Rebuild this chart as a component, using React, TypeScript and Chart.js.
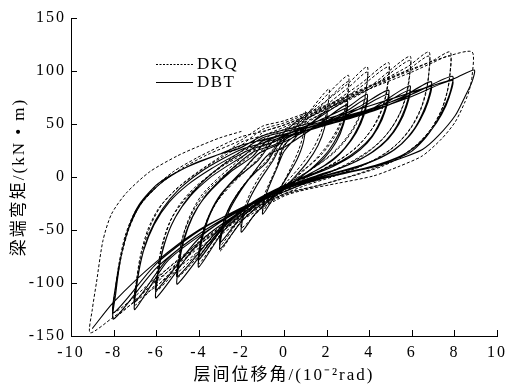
import React, { useEffect, useRef } from "react";
import { Chart, registerables } from "chart.js";

Chart.register(...registerables);

// Tick values
const xTicks = [-10, -8, -6, -4, -2, 0, 2, 4, 6, 8, 10];
const yTicks = [-150, -100, -50, 0, 50, 100, 150];

// DBT (solid) hysteresis cycles, in loading order: [drift (10^-2 rad), moment (kN·m)]
const dbt1 = [[-0.3,10],[0,24],[0.5,36],[1,48],[0.9,32],[0.6,16],[0.2,2],[-0.1,-8],[-0.5,-20],[-1,-35],[-0.9,-20],[-0.6,-4],[-0.3,10]];
const dbt2 = [[0,30],[1,46],[2,62],[1.9,46],[1.6,30],[1.1,14],[0.5,0],[0,-10],[-0.8,-24],[-1.4,-36],[-2,-52],[-1.9,-36],[-1.6,-20],[-1.1,-2],[-0.5,16]];
const dbt3 = [[0,34],[1.2,50],[2.95,72],[2.85,56],[2.55,40],[2.1,25],[1.5,12],[0.8,0],[0,-12],[-1.2,-28],[-2,-42],[-3,-68],[-2.9,-52],[-2.6,-33],[-2.1,-15],[-1.5,2],[-0.8,20]];
const dbt3b = [[0,28],[1.5,48],[2.95,68],[2.8,50],[2.45,33],[1.9,18],[1.2,6],[0.4,-5],[0,-10],[-1.2,-25],[-2.1,-40],[-3,-62],[-2.88,-45],[-2.5,-26],[-1.9,-8],[-1.3,5],[-0.8,14]];
const dbt4 = [[0,38],[1.5,52],[3,66],[3.9,78],[3.8,64],[3.5,48],[3.1,34],[2.6,22],[1.9,11],[1.1,2],[0.3,-6],[-0.3,-12],[-1.5,-28],[-2.8,-50],[-4,-85],[-3.95,-70],[-3.7,-48],[-3.3,-28],[-2.7,-10],[-2,5],[-1.2,22]];
const dbt4b = [[0,33],[1.5,48],[3,63],[3.9,74],[3.75,58],[3.4,42],[2.9,28],[2.3,16],[1.5,6],[0.6,-3],[0,-9],[-1.5,-25],[-2.8,-46],[-4,-78],[-3.9,-60],[-3.6,-40],[-3.1,-20],[-2.4,-4],[-1.2,16]];
const dbt5 = [[-0.5,34],[0.5,43],[2,52],[3.5,66],[4.9,82],[4.8,68],[4.5,52],[4.1,38],[3.5,26],[2.7,15],[1.7,6],[0.7,-2],[0,-9],[-1.5,-26],[-3,-50],[-5,-101],[-4.95,-85],[-4.7,-60],[-4.3,-38],[-3.7,-18],[-3,-3],[-2.2,12],[-1.4,24]];
const dbt5b = [[-0.5,30],[0.5,40],[2,50],[3.5,64],[4.9,78],[4.75,62],[4.4,46],[3.9,32],[3.2,20],[2.3,10],[1.2,1],[0,-8],[-1.5,-24],[-3,-48],[-5,-94],[-4.9,-75],[-4.6,-52],[-4.1,-30],[-3.4,-12],[-2.5,5],[-1.5,19]];
const dbt6 = [[-0.8,34],[0.5,43],[2,51],[4,63],[5.9,86],[5.8,72],[5.5,56],[5.1,42],[4.5,29],[3.7,18],[2.7,9],[1.5,1],[0,-10],[-2,-32],[-4,-62],[-6,-114],[-5.95,-98],[-5.7,-70],[-5.3,-46],[-4.7,-25],[-3.9,-6],[-2.9,11],[-1.8,24]];
const dbt6b = [[-0.8,31],[0.5,40],[2,49],[4,61],[5.9,82],[5.75,66],[5.4,50],[4.9,36],[4.2,24],[3.3,14],[2.2,5],[1,-3],[0,-9],[-2,-30],[-4,-58],[-6,-107],[-5.9,-88],[-5.6,-62],[-5.1,-38],[-4.4,-18],[-3.5,-1],[-2.7,10],[-1.9,20]];
const dbt7 = [[-1,34],[0.5,43],[2,52],[4,63],[5.5,75],[6.9,90],[6.8,76],[6.5,60],[6.1,45],[5.5,31],[4.7,20],[3.6,11],[2.2,3],[1,-4],[0,-11],[-2,-31],[-4,-56],[-5.5,-80],[-7,-125],[-6.95,-108],[-6.7,-78],[-6.3,-52],[-5.7,-30],[-4.9,-11],[-3.9,5],[-2.9,17],[-2,26]];
const dbt7b = [[-1,32],[0.5,41],[2,50],[4,61],[5.5,73],[6.9,86],[6.75,70],[6.4,54],[5.9,39],[5.2,26],[4.3,16],[3.1,7],[1.7,0],[0,-10],[-2,-30],[-4,-54],[-5.5,-78],[-7,-118],[-6.9,-98],[-6.6,-70],[-6.1,-45],[-5.4,-24],[-4.5,-7],[-3.4,8],[-2.1,23]];
const dbt8 = [[-1,37],[0.5,45],[2,53],[4,64],[6,78],[7.9,95],[7.8,80],[7.5,65],[7.1,50],[6.6,36],[5.9,23],[4.8,14],[3.3,6],[1.5,-2],[0,-12],[-2,-31],[-4,-54],[-6,-86],[-8,-134],[-7.9,-110],[-7.65,-75],[-7.3,-48],[-6.8,-26],[-5.9,-6],[-4.6,9],[-3.1,21],[-2,30]];
const dbt8b = [[-1,35],[0.5,43],[2,51],[4,62],[6,76],[7.9,91],[7.75,75],[7.4,59],[6.9,44],[6.3,31],[5.5,20],[4.3,11],[2.8,3],[1.2,-4],[0,-11],[-2,-29],[-4,-51],[-6,-82],[-8,-128],[-7.9,-102],[-7.6,-70],[-7.2,-44],[-6.6,-22],[-5.6,-3],[-4.3,12],[-3.1,21],[-2.1,27]];
const dbt9 = [[-1,39],[0.5,47],[2,55],[4,67],[6,80],[8,93],[8.93,101],[8.83,90],[8.5,76],[8.04,58],[7.25,39],[6.5,26],[5.4,17],[4.3,10],[2.5,2],[1,-6],[0,-14],[-2,-30],[-4,-50],[-6,-80],[-8,-118],[-9,-143]];

// DKQ (dashed) hysteresis cycles, in loading order
const dkq1 = [[-0.3,12],[0,28],[0.5,45],[1,62],[0.95,44],[0.7,26],[0.35,10],[0,-4],[-0.5,-18],[-1,-32],[-0.9,-16],[-0.6,-2],[-0.3,12]];
const dkq2 = [[0,36],[1,57],[2.1,83],[2.05,66],[1.8,46],[1.4,28],[0.8,11],[0.2,-3],[-0.2,-12],[-1,-28],[-2,-48],[-1.9,-32],[-1.6,-16],[-1.1,2],[-0.5,18]];
const dkq3 = [[0,42],[1.4,65],[3,96],[3,80],[2.85,63],[2.5,45],[2,29],[1.4,15],[0.7,3],[0,-10],[-1.2,-27],[-2.1,-44],[-3,-70],[-2.95,-54],[-2.7,-35],[-2.2,-16],[-1.6,0],[-0.8,20]];
const dkq3b = [[0,36],[1.5,62],[3,90],[2.95,72],[2.75,54],[2.35,37],[1.8,22],[1.1,9],[0.4,-3],[0,-9],[-1.2,-25],[-2.1,-41],[-3,-65],[-2.9,-48],[-2.6,-30],[-2,-11],[-1.4,4],[-0.8,16]];
const dkq4 = [[0,42],[1.6,66],[3,88],[3.9,104],[3.9,88],[3.8,74],[3.55,58],[3.15,43],[2.6,29],[1.9,16],[1.1,5],[0.3,-5],[-0.3,-12],[-1.5,-30],[-2.8,-50],[-4,-82],[-3.95,-66],[-3.7,-46],[-3.3,-28],[-2.7,-11],[-2,4],[-1.1,24]];
const dkq4b = [[0,39],[1.6,62],[3,84],[3.9,99],[3.85,82],[3.7,66],[3.4,50],[2.95,36],[2.3,22],[1.5,10],[0.6,-1],[0,-8],[-1.5,-28],[-2.8,-47],[-4,-77],[-3.9,-60],[-3.6,-40],[-3.1,-22],[-2.4,-6],[-1.1,20]];
const dkq5 = [[-0.6,36],[0.5,48],[2,66],[3.6,88],[4.9,108],[4.9,92],[4.8,78],[4.55,62],[4.15,46],[3.6,32],[2.9,20],[2.1,10],[1.2,1],[0,-12],[-1.5,-28],[-3,-52],[-5,-95],[-4.95,-78],[-4.75,-56],[-4.4,-36],[-3.9,-18],[-3.2,-3],[-2.4,11],[-1.6,24]];
const dkq5b = [[-0.6,32],[0.5,44],[2,63],[3.6,85],[4.9,104],[4.85,86],[4.7,70],[4.4,54],[3.9,39],[3.3,26],[2.5,15],[1.6,5],[0.5,-5],[0,-10],[-1.5,-26],[-3,-49],[-5,-90],[-4.9,-71],[-4.65,-50],[-4.2,-30],[-3.6,-13],[-2.8,2],[-1.6,20]];
const dkq6 = [[-1,35],[0,45],[2,64],[4,85],[5.9,114],[5.9,96],[5.8,82],[5.55,65],[5.1,48],[4.5,33],[3.7,20],[2.8,10],[1.7,1],[0.5,-8],[0,-14],[-2,-35],[-4,-64],[-6,-108],[-5.95,-90],[-5.75,-66],[-5.4,-44],[-4.9,-26],[-4.2,-10],[-3.3,5],[-2.6,16],[-2,24]];
const dkq6b = [[-1,32],[0,42],[2,62],[4,83],[5.9,110],[5.85,90],[5.7,75],[5.4,58],[4.9,42],[4.2,28],[3.3,16],[2.3,6],[1.1,-3],[0,-12],[-2,-33],[-4,-61],[-6,-103],[-5.9,-84],[-5.65,-60],[-5.25,-38],[-4.6,-20],[-3.8,-4],[-2.9,10],[-2,21]];
const dkq7 = [[-1,42],[0,49],[2,66],[4,85],[5.8,104],[6.8,118],[6.8,98],[6.7,84],[6.45,66],[6,48],[5.4,33],[4.6,20],[3.6,10],[2.4,1],[1,-8],[0,-16],[-2,-36],[-4,-64],[-5.5,-90],[-7,-121],[-6.95,-102],[-6.75,-75],[-6.4,-50],[-5.9,-30],[-5.1,-12],[-4.1,4],[-3,19],[-2,33]];
const dkq7b = [[-1,39],[0,47],[2,64],[4,83],[5.8,101],[6.8,114],[6.78,94],[6.65,78],[6.35,60],[5.85,43],[5.2,29],[4.3,17],[3.2,7],[1.9,-1],[0.6,-9],[0,-14],[-2,-34],[-4,-62],[-5.5,-87],[-7,-116],[-6.9,-96],[-6.65,-70],[-6.25,-45],[-5.7,-25],[-4.8,-7],[-3.7,9],[-2.8,20],[-2,30]];
const dkq8 = [[-1,45],[0,51],[2,67],[4,85],[6,101],[7,110],[7.8,118],[7.8,99],[7.7,84],[7.45,66],[7,48],[6.4,33],[5.6,20],[4.6,10],[3.4,2],[2,-6],[0,-17],[-2,-39],[-4,-67],[-6,-98],[-8,-133],[-7.95,-112],[-7.75,-82],[-7.45,-55],[-7,-33],[-6.2,-12],[-5.2,5],[-4.1,18],[-3,29],[-2,38]];
const dkq8b = [[-1,43],[0,49],[2,65],[4,83],[6,99],[7,108],[7.8,114],[7.78,95],[7.65,79],[7.35,61],[6.85,44],[6.2,30],[5.3,17],[4.2,8],[3,0],[1.6,-8],[0,-16],[-2,-37],[-4,-64],[-6,-95],[-8,-128],[-7.9,-105],[-7.65,-76],[-7.3,-50],[-6.8,-28],[-5.9,-8],[-4.8,8],[-3.6,21],[-2,35]];
const dkq9 = [[-1,48],[0,53],[2,68],[4,86],[6,102],[7.7,114],[8.83,118],[8.83,95],[8.7,82],[8.5,71],[8.04,52],[7.4,36],[6.5,20],[5.4,10],[4.2,1],[2.5,-6],[1,-12],[0,-18],[-2,-41],[-4,-70],[-6,-103],[-8,-132],[-9.1,-147],[-9,-125],[-8.8,-99],[-8.5,-60],[-8.1,-35],[-7.4,-15],[-6.3,5],[-5,20],[-4,29],[-3,37],[-2,43]];

const dbtCycles = [dbt1, dbt2, dbt3, dbt3b, dbt4, dbt4b, dbt5, dbt5b, dbt6, dbt6b, dbt7, dbt7b, dbt8, dbt8b, dbt9];
const dkqCycles = [dkq1, dkq2, dkq3, dkq3b, dkq4, dkq4b, dkq5, dkq5b, dkq6, dkq6b, dkq7, dkq7b, dkq8, dkq8b, dkq9];

const seriesNames = ["DKQ", "DBT"];
const xTitle = "层间位移角/(10⁻²rad)";
const yTitle = "梁端弯矩/(kN • m)";

const SERIF = "'Liberation Serif', 'Times New Roman', 'Noto Sans CJK SC', serif";

const spacingPlugin = {
  id: "spacing",
  beforeLayout(chart: any) {
    chart.ctx.letterSpacing = "2px";
  },
  beforeDraw(chart: any) {
    chart.ctx.letterSpacing = "2px";
  },
};

const inwardTicks = {
  id: "inwardTicks",
  afterDraw(chart: any) {
    const ctx = chart.ctx;
    const { left, bottom } = chart.chartArea;
    const xs = chart.scales.x;
    const ys = chart.scales.y;
    ctx.save();
    ctx.strokeStyle = "#000";
    ctx.lineWidth = 1;
    ctx.setLineDash([]);
    ctx.beginPath();
    xTicks.forEach((v) => {
      const px = Math.round(xs.getPixelForValue(v)) + 0.5;
      ctx.moveTo(px, bottom);
      ctx.lineTo(px, bottom - 6);
    });
    yTicks.forEach((v) => {
      const py = Math.round(ys.getPixelForValue(v)) + 0.5;
      ctx.moveTo(left, py);
      ctx.lineTo(left + 6, py);
    });
    ctx.stroke();
    ctx.restore();
  },
};

const legendPlugin = {
  id: "customLegend",
  afterDraw(chart: any) {
    const ctx = chart.ctx;
    const { left, top } = chart.chartArea;
    const x0 = left + 85;
    const rows = [
      { y: top + 46, dash: [2, 1.5], name: seriesNames[0] },
      { y: top + 64, dash: [], name: seriesNames[1] },
    ];
    ctx.save();
    ctx.letterSpacing = "1.5px";
    rows.forEach((r) => {
      ctx.strokeStyle = "#000";
      ctx.lineWidth = 1.2;
      ctx.setLineDash(r.dash);
      ctx.beginPath();
      ctx.moveTo(x0, r.y + 0.5);
      ctx.lineTo(x0 + 37, r.y + 0.5);
      ctx.stroke();
      ctx.setLineDash([]);
      ctx.fillStyle = "#000";
      ctx.font = "17px " + SERIF;
      ctx.textAlign = "left";
      ctx.textBaseline = "middle";
      ctx.fillText(r.name, x0 + 41, r.y + 1);
    });
    ctx.restore();
  },
};

export default function App() {
  const ref = useRef<HTMLCanvasElement>(null);
  useEffect(() => {
    if (!ref.current) return;
    const toPts = (cycles: number[][][]) => cycles.flat().map(([x, y]) => ({ x, y }));
    const datasets: any[] = [
      {
        label: seriesNames[0],
        data: toPts(dkqCycles),
        showLine: true,
        borderColor: "#000",
        borderWidth: 1,
        borderDash: [3, 2],
        pointRadius: 0,
        tension: 0.25,
        fill: false,
      },
      {
        label: seriesNames[1],
        data: toPts(dbtCycles),
        showLine: true,
        borderColor: "#000",
        borderWidth: 1.1,
        pointRadius: 0,
        tension: 0.25,
        fill: false,
      },
    ];
    const chart = new Chart(ref.current, {
      type: "scatter",
      data: { datasets },
      options: {
        animation: false,
        responsive: false,
        devicePixelRatio: 1,
        layout: { padding: { left: 0, right: 12, top: 18, bottom: 0 } },
        plugins: { legend: { display: false }, tooltip: { enabled: false } },
        scales: {
          x: {
            type: "linear",
            min: -10,
            max: 10,
            afterBuildTicks: (s: any) => {
              s.ticks = xTicks.map((v) => ({ value: v }));
            },
            afterFit: (s: any) => {
              s.height = 50;
            },
            ticks: { color: "#000", font: { family: SERIF, size: 16 }, padding: 7, maxRotation: 0 },
            grid: { drawOnChartArea: false, drawTicks: false },
            border: { display: true, color: "#000", width: 1 },
            title: {
              display: true,
              text: xTitle,
              color: "#000",
              font: { family: SERIF, size: 17 },
              padding: { top: 0, bottom: 0 },
            },
          },
          y: {
            type: "linear",
            min: -150,
            max: 150,
            afterBuildTicks: (s: any) => {
              s.ticks = yTicks.map((v) => ({ value: v }));
            },
            afterFit: (s: any) => {
              s.width = 71;
            },
            ticks: { color: "#000", font: { family: SERIF, size: 16 }, padding: 5 },
            grid: { drawOnChartArea: false, drawTicks: false },
            border: { display: true, color: "#000", width: 1 },
            title: {
              display: true,
              text: yTitle,
              color: "#000",
              font: { family: SERIF, size: 17 },
              padding: { top: 9, bottom: 0 },
            },
          },
        },
      },
      plugins: [spacingPlugin, inwardTicks, legendPlugin],
    } as any);
    return () => chart.destroy();
  }, []);
  return (
    <div style={{ position: "absolute", left: 0, top: 0, width: 514, height: 386, background: "#fff" }}>
      <canvas ref={ref} width={514} height={386} style={{ display: "block" }} />
    </div>
  );
}
